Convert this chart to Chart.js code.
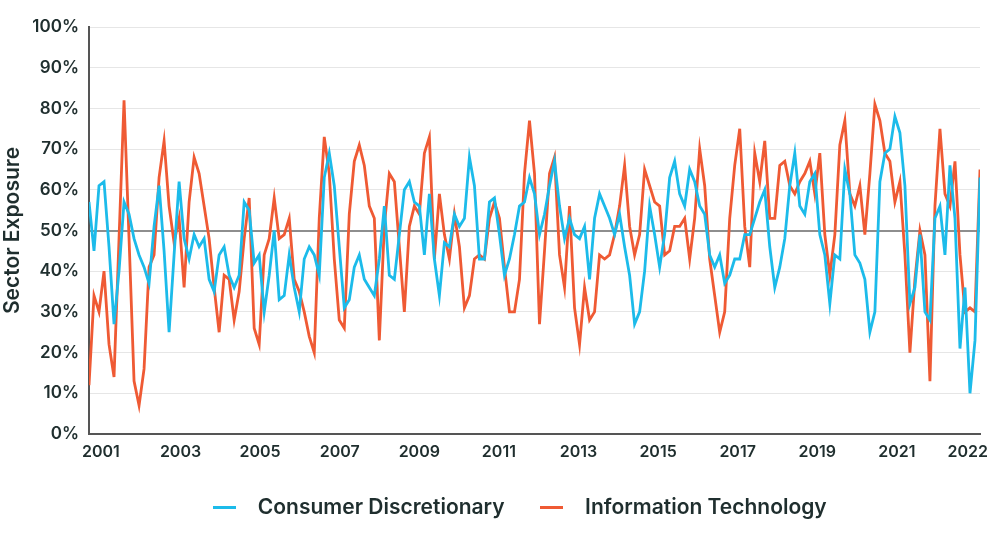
<!DOCTYPE html>
<html>
<head>
<meta charset="utf-8">
<script src="https://cdn.jsdelivr.net/npm/chart.js@4.4.1/dist/chart.umd.min.js"></script>
<style>
  html, body { margin: 0; padding: 0; background: #fff; }
  #wrap { width: 1000px; height: 534px; }
</style>
</head>
<body>
<div id="wrap"><canvas id="chart" width="1000" height="534"></canvas></div>
<script>
// time span of the weekly series, in decimal years
const START_YEAR = 2000.70;
const END_YEAR = 2023.09;

const tickLabels = ['2001', '2003', '2005', '2007', '2009', '2011', '2013', '2015', '2017', '2019', '2021', '2022'];
const tickPositions = [2001, 2003, 2005, 2007, 2009, 2011, 2013, 2015, 2017, 2019, 2021, 2022.78];

const consumerDiscretionary = [
    57, 45, 61, 62, 46, 27, 40, 57, 54, 48, 44, 41, 37, 51, 61, 45, 25, 44, 62, 48,
    43, 49, 46, 48, 38, 35, 44, 46, 39, 36, 39, 57, 55, 42, 44, 30, 39, 50, 33, 34,
    44, 36, 30, 43, 46, 44, 39, 63, 69, 61, 46, 31, 33, 41, 44, 38, 36, 34, 43, 56,
    39, 38, 49, 60, 62, 57, 56, 44, 59, 43, 34, 47, 46, 54, 51, 53, 68, 61, 43, 43,
    57, 58, 49, 39, 43, 49, 56, 57, 63, 59, 49, 54, 61, 67, 56, 48, 53, 49, 48, 51,
    38, 53, 59, 56, 53, 49, 54, 46, 39, 27, 30, 40, 56, 49, 41, 49, 63, 67, 59, 56,
    65, 62, 56, 54, 44, 41, 44, 37, 39, 43, 43, 49, 49, 53, 57, 60, 46, 36, 41, 48,
    61, 69, 56, 54, 62, 64, 49, 44, 32, 44, 43, 65, 59, 44, 42, 38, 25, 30, 62, 69,
    70, 78, 74, 61, 32, 36, 49, 30, 28, 53, 56, 44, 66, 53, 21, 36, 10, 23, 63
];

const informationTechnology = [
    12, 34, 30, 40, 22, 14, 48, 82, 48, 13, 7, 16, 41, 44, 63, 72, 56, 47, 53, 36,
    57, 68, 64, 56, 48, 36, 25, 39, 38, 28, 35, 48, 58, 26, 22, 44, 48, 58, 48, 49,
    53, 38, 35, 30, 24, 20, 53, 73, 64, 43, 28, 26, 54, 67, 71, 66, 56, 53, 23, 51,
    64, 62, 46, 30, 51, 56, 54, 69, 73, 43, 59, 49, 43, 54, 46, 31, 34, 43, 44, 43,
    53, 57, 53, 41, 30, 30, 38, 64, 77, 64, 27, 45, 64, 68, 44, 36, 56, 31, 22, 36,
    28, 30, 44, 43, 44, 49, 56, 66, 51, 44, 49, 65, 61, 57, 56, 44, 45, 51, 51, 53,
    43, 53, 70, 61, 43, 34, 25, 30, 53, 66, 75, 51, 41, 69, 62, 72, 53, 53, 66, 67,
    61, 59, 62, 64, 67, 59, 69, 49, 39, 49, 71, 77, 59, 56, 61, 49, 64, 81, 77, 69,
    67, 57, 62, 44, 20, 38, 50, 44, 13, 56, 75, 59, 56, 67, 44, 30, 31, 30, 65
];

const SERIES = [
    { label: 'Consumer Discretionary', color: '#1cbbea', values: consumerDiscretionary },
    { label: 'Information Technology', color: '#ef5a34', values: informationTechnology }
];

const TEXT_COLOR = '#1f2e2e';
const FONT_FAMILY = 'Inter, "Noto Sans", sans-serif';
const LEGEND_SHIFT = 24;

function yearAt(index, count) {
    return START_YEAR + index * (END_YEAR - START_YEAR) / (count - 1);
}

// short coloured dash used as the legend marker
function legendDash(color) {
    const c = document.createElement('canvas');
    c.width = 23;
    c.height = 3;
    const ctx = c.getContext('2d');
    ctx.fillStyle = color;
    ctx.fillRect(0, 0, 23, 3);
    return c;
}

// the legend in the original sits a little right of the canvas centre
const legendShift = {
    id: 'legendShift',
    afterLayout(chart) {
        if (chart.legend) {
            chart.legend.left += LEGEND_SHIFT;
            chart.legend.right += LEGEND_SHIFT;
        }
    }
};

const datasets = SERIES.map(s => ({
    label: s.label,
    data: s.values.map((v, i) => ({ x: yearAt(i, s.values.length), y: v })),
    borderColor: s.color,
    backgroundColor: s.color,
    borderWidth: 2.8,
    pointRadius: 0,
    pointStyle: legendDash(s.color),
    tension: 0
}));

new Chart(document.getElementById('chart'), {
    type: 'line',
    data: { datasets },
    plugins: [legendShift],
    options: {
        responsive: false,
        animation: false,
        layout: { padding: { top: 27, right: 20, left: 0, bottom: 6 } },
        plugins: {
            tooltip: { enabled: false },
            legend: {
                position: 'bottom',
                labels: {
                    usePointStyle: true,
                    pointStyleWidth: 46,
                    boxHeight: 3,
                    padding: 24,
                    color: TEXT_COLOR,
                    font: { family: FONT_FAMILY, size: 21, weight: '600' }
                }
            }
        },
        scales: {
            x: {
                type: 'linear',
                min: START_YEAR,
                max: END_YEAR,
                grid: { display: false, drawTicks: false },
                border: { color: '#555', width: 2 },
                afterBuildTicks(scale) {
                    scale.ticks = tickPositions.map(v => ({ value: v }));
                },
                afterFit(scale) {
                    scale.height = 39;
                },
                ticks: {
                    autoSkip: false,
                    maxRotation: 0,
                    padding: 9,
                    color: TEXT_COLOR,
                    font: { family: FONT_FAMILY, size: 16, weight: '600' },
                    callback(value, index) {
                        return tickLabels[index];
                    }
                }
            },
            y: {
                min: 0,
                max: 100,
                border: { color: '#555', width: 2 },
                grid: {
                    drawTicks: false,
                    color(ctx) {
                        return ctx.tick.value === 50 ? '#8e8e8e' : '#e6e6e6';
                    },
                    lineWidth(ctx) {
                        return ctx.tick.value === 50 ? 2 : 1;
                    }
                },
                afterFit(scale) {
                    scale.width = 89;
                },
                ticks: {
                    stepSize: 10,
                    padding: 10,
                    color: TEXT_COLOR,
                    font: { family: FONT_FAMILY, size: 17, weight: '600' },
                    callback(value) {
                        return `${value}%`;
                    }
                },
                title: {
                    display: true,
                    text: 'Sector Exposure',
                    color: TEXT_COLOR,
                    padding: { top: 0, bottom: 0 },
                    font: { family: FONT_FAMILY, size: 21, weight: '600' }
                }
            }
        }
    }
});
</script>
</body>
</html>
